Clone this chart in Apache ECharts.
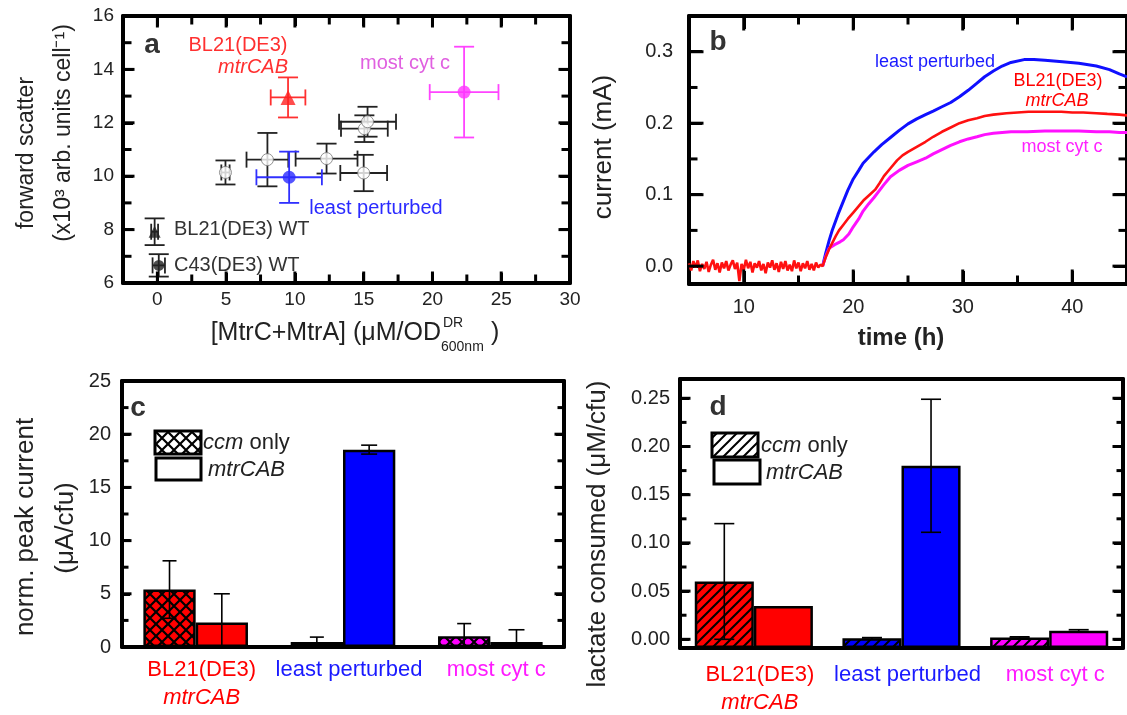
<!DOCTYPE html>
<html><head><meta charset="utf-8">
<script src="https://cdn.jsdelivr.net/npm/echarts@6/dist/echarts.min.js"></script>
<style>html,body{margin:0;padding:0;background:#fff}#c{width:1127px;height:715px}</style>
</head><body><div id="c"></div>
<script>
// ---------------- Panel a: [x, y, xErr, yErr]
const aMtrCAB  = [[9.5, 12.95, 1.26, 0.75]];
const aMostCyt = [[22.3, 13.15, 2.5, 1.7]];
const aLeast   = [[9.58, 9.96, 2.38, 0.96]];
const aOthers  = [[4.95,10.14,0.3,0.45],[8.0,10.62,1.52,1.0],[12.3,10.66,2.25,0.56],
                  [15.0,10.12,1.7,0.68],[15.05,11.78,1.7,0.5],[15.28,12.04,2.07,0.56]];
const aBLWT    = [[-0.2, 7.92, 0.25, 0.5]];
const aC43WT   = [[0.1, 6.66, 0.45, 0.42]];
const aXTicks  = [0,5,10,15,20,25,30];
const aXMinor  = [2.5,7.5,12.5,17.5,22.5,27.5];
const aYTicks  = [6,8,10,12,14,16];
const aYMinor  = [7,9,11,13,15];

// ---------------- Panel b: [time (h), current (mA)]
const bRedBaseline = [
[5.0,0.004],[5.2,-0.006],[5.4,0.007],[5.6,-0.002],[5.8,0.008],
[6.0,-0.007],[6.2,0.003],[6.4,-0.004],[6.6,0.006],[6.8,-0.008],
[7.0,0.002],[7.2,0.009],[7.4,-0.005],[7.6,0.004],[7.8,-0.009],
[8.0,0.005],[8.2,-0.003],[8.4,0.007],[8.6,-0.006],[8.8,0.002],
[9.0,0.008],[9.2,-0.004],[9.4,0.005],[9.6,-0.021],[9.8,0.003],
[10.0,-0.005],[10.2,0.009],[10.4,-0.003],[10.6,0.006],[10.8,-0.009],
[11.0,0.004],[11.2,-0.002],[11.4,0.007],[11.6,-0.006],[11.8,0.003],
[12.0,-0.010],[12.2,0.005],[12.4,-0.002],[12.6,0.008],[12.8,-0.005],
[13.0,0.004],[13.2,-0.008],[13.4,0.006],[13.6,-0.004],[13.8,0.007],
[14.0,-0.006],[14.2,0.002],[14.4,-0.007],[14.6,0.008],[14.8,-0.003],
[15.0,0.005],[15.2,-0.007],[15.4,0.004],[15.6,-0.003],[15.8,0.007],
[16.0,-0.005],[16.2,0.003],[16.4,-0.006],[16.6,0.005],[16.8,-0.002],
[17.0,0.002]];
const bRedRise = [
[17.2,0.000],[17.5,0.013],[17.8,0.024],[18.1,0.033],[18.4,0.042],[18.7,0.050],[19.1,0.058],
[19.5,0.066],[20.0,0.075],[20.5,0.084],[21.0,0.093],[21.5,0.100],[22.0,0.107],[22.4,0.116],
[22.8,0.126],[23.4,0.137],[24.0,0.148],[24.5,0.155],[25.0,0.160],[25.8,0.167],[26.6,0.174],
[27.3,0.181],[28.1,0.188],[28.9,0.194],[29.7,0.200],[30.5,0.204],[31.3,0.207],[32.0,0.210],
[32.8,0.212],[34.0,0.214],[35.0,0.215],[36.0,0.216],[37.0,0.216],[38.0,0.216],[39.0,0.216],
[40.0,0.215],[41.0,0.215],[42.2,0.214],[43.2,0.213],[44.3,0.212],[45.0,0.211]];
const bBlue = [
[17.2,0.000],[17.5,0.019],[17.8,0.036],[18.1,0.051],[18.6,0.072],[19.1,0.091],[19.5,0.106],
[20.0,0.122],[20.5,0.134],[20.9,0.144],[21.4,0.152],[21.9,0.160],[22.6,0.170],[23.4,0.180],
[24.2,0.190],[25.0,0.199],[25.8,0.206],[26.6,0.212],[27.3,0.217],[28.1,0.223],[28.9,0.229],
[29.7,0.237],[30.5,0.246],[31.3,0.256],[32.0,0.265],[32.8,0.273],[33.6,0.280],[34.4,0.285],
[35.6,0.289],[36.5,0.289],[37.5,0.288],[38.3,0.287],[39.1,0.286],[40.6,0.284],[42.2,0.280],
[43.4,0.275],[44.3,0.269],[45.0,0.265]];
const bMagenta = [
[17.2,0.000],[17.5,0.014],[17.8,0.025],[18.3,0.030],[18.8,0.034],[19.1,0.037],[19.6,0.045],
[20.0,0.055],[20.5,0.066],[20.9,0.077],[21.4,0.087],[21.9,0.096],[22.4,0.106],[22.8,0.114],
[23.4,0.125],[24.2,0.134],[25.0,0.141],[25.8,0.146],[26.6,0.151],[27.3,0.157],[28.1,0.163],
[28.9,0.169],[29.7,0.174],[30.5,0.178],[31.3,0.181],[32.0,0.184],[32.8,0.186],[34.4,0.188],
[35.9,0.188],[37.5,0.189],[39.0,0.189],[40.6,0.189],[42.2,0.188],[43.4,0.188],[44.3,0.187],[45.0,0.187]];
const bXTicks = [10,20,30,40];
const bXMinor = [15,25,35];
const bYTicks = [0,0.1,0.2,0.3];
const bYMinor = [0.05,0.15,0.25];

// ---------------- Panels c, d
const categories = ['BL21(DE3) mtrCAB','least perturbed','most cyt c'];
const cCcm    = [5.4, 0.47, 1.0];
const cCcmErr = [2.7, 0.46, 1.2];
const cMtr    = [2.3, 18.55, 0.47];
const cMtrErr = [2.7, 0.42, 1.15];
const cYTicks = [0,5,10,15,20,25];
const cYMinor = [2.5,7.5,12.5,17.5,22.5];
const dCcm    = [0.060, 0.001, 0.002];
const dCcmErr = [0.060, 0.0008, 0.0006];
const dMtr    = [0.0345, 0.180, 0.009];
const dMtrErr = [0, 0.069, 0.001];
const dYTicks = [0,0.05,0.10,0.15,0.20,0.25];
const dYMinor = [0.025,0.075,0.125,0.175,0.225];

const FONT = "'Liberation Sans', Arial, sans-serif";
const RED = '#ff0000', BLUE = '#0000ff', MAG = '#ff00ff';
const catColors = [RED, BLUE, MAG];

const GRIDS = [
  {left:123, top:16, width:447, height:267},
  {left:689, top:16, width:446, height:268},
  {left:122, top:381, width:442, height:266},
  {left:680, top:379, width:443, height:269}
];

function crossPattern(bg) {
  const p = 12, cv = document.createElement('canvas'); cv.width = p; cv.height = p;
  const ctx = cv.getContext('2d'); ctx.fillStyle = bg; ctx.fillRect(0,0,p,p);
  ctx.strokeStyle = '#000'; ctx.lineWidth = 2.2;
  ctx.beginPath(); ctx.moveTo(0,0); ctx.lineTo(p,p); ctx.moveTo(p,0); ctx.lineTo(0,p); ctx.stroke();
  return {image: cv, repeat: 'repeat'};
}
function diagPattern(bg) {
  const p = 10, cv = document.createElement('canvas'); cv.width = p; cv.height = p;
  const ctx = cv.getContext('2d'); ctx.fillStyle = bg; ctx.fillRect(0,0,p,p);
  ctx.strokeStyle = '#000'; ctx.lineWidth = 2;
  ctx.beginPath(); ctx.moveTo(0,p); ctx.lineTo(p,0);
  ctx.moveTo(-2,2); ctx.lineTo(2,-2); ctx.moveTo(p-2,p+2); ctx.lineTo(p+2,p-2); ctx.stroke();
  return {image: cv, repeat: 'repeat'};
}

const LINE = {color:'#000', width:4};
function vAxis(o) {
  return {
    type:'value', gridIndex:o.grid, position:o.pos, min:o.min, max:o.max,
    startValue:o.startValue,
    axisLine:{show:true, onZero:false, lineStyle:LINE}, splitLine:{show:false},
    axisTick:o.tlen ? {show:true, inside:true, length:o.tlen, customValues:o.ticks, lineStyle:{color:'#000', width:3}} : {show:false},
    minorTick:{show:false},
    axisLabel: o.labels ? {show:true, customValues:o.ticks, margin:o.margin, fontSize:o.fs||20,
      color:'#222', fontFamily:FONT, formatter:o.fmt} : {show:false}
  };
}

const xAxes = [
  vAxis({grid:0,pos:'bottom',min:-2.5,max:30,ticks:aXTicks,labels:true,margin:7,fs:19,tlen:10}),
  vAxis({grid:0,pos:'top',min:-2.5,max:30,ticks:aXTicks,tlen:10}),
  vAxis({grid:1,pos:'bottom',min:5,max:45,ticks:bXTicks,labels:true,margin:13,tlen:13}),
  vAxis({grid:1,pos:'top',min:5,max:45,ticks:bXTicks,tlen:13}),
];
function catAxis(grid, margin) {
  return {type:'category', gridIndex:grid, position:'bottom', data:categories,
    axisLine:{show:true, onZero:false, lineStyle:LINE}, axisTick:{show:false},
    splitLine:{show:false},
    axisLabel:{interval:0, margin:margin, padding:[0,0,0,12], fontFamily:FONT, fontSize:22,
      formatter:(v,i)=> i===0 ? '{r|BL21(DE3)}\n{ri|mtrCAB}' : (i===1 ? '{b|least perturbed}' : '{m|most cyt c}'),
      rich:{
        r:{color:RED,fontSize:22,lineHeight:28,fontFamily:FONT},
        ri:{color:RED,fontSize:22,lineHeight:28,fontStyle:'italic',fontFamily:FONT},
        b:{color:'#1a1aff',fontSize:22,lineHeight:28,fontFamily:FONT},
        m:{color:'#ff1aff',fontSize:22,lineHeight:28,fontFamily:FONT}
      }}};
}
function catTop(grid) {
  return {type:'category', gridIndex:grid, position:'top', data:categories,
    axisLine:{show:true, onZero:false, lineStyle:LINE}, axisTick:{show:false}, axisLabel:{show:false}, splitLine:{show:false}};
}
xAxes.push(catAxis(2, 9));   // 4
xAxes.push(catAxis(3, 13));  // 5
xAxes.push(catTop(2));       // 6
xAxes.push(catTop(3));       // 7

const yAxes = [
  vAxis({grid:0,pos:'left',min:6,max:16,ticks:aYTicks,labels:true,margin:9,fs:19,tlen:10}),   // 0
  vAxis({grid:0,pos:'right',min:6,max:16,ticks:aYTicks,tlen:10}),                           // 1
  vAxis({grid:1,pos:'left',min:-0.025,max:0.35,ticks:bYTicks,labels:true,margin:16,fmt:v=>v.toFixed(1),tlen:13}), // 2
  vAxis({grid:1,pos:'right',min:-0.025,max:0.35,ticks:bYTicks,tlen:13}),                    // 3
  vAxis({grid:2,pos:'left',min:0,max:25,ticks:cYTicks,labels:true,margin:11,tlen:8}),        // 4
  vAxis({grid:2,pos:'right',min:0,max:25,ticks:cYTicks,tlen:8}),                            // 5
  vAxis({grid:3,pos:'left',min:-0.009,max:0.27,startValue:-0.009,ticks:dYTicks,labels:true,margin:10,fmt:v=>v.toFixed(2),tlen:9}), // 6
  vAxis({grid:3,pos:'right',min:-0.009,max:0.27,ticks:dYTicks,tlen:9}),                     // 7
];

function xyErr(color) {
  return function(params, api) {
    const x = api.value(0), y = api.value(1), ex = api.value(2), ey = api.value(3);
    const l = api.coord([x-ex,y]), r = api.coord([x+ex,y]), t = api.coord([x,y+ey]), b = api.coord([x,y-ey]);
    const st = {stroke:color, lineWidth:1.8};
    const ch = 10, cv = 8;
    return {type:'group', children:[
      {type:'line', shape:{x1:l[0],y1:l[1],x2:r[0],y2:r[1]}, style:st},
      {type:'line', shape:{x1:l[0],y1:l[1]-cv,x2:l[0],y2:l[1]+cv}, style:st},
      {type:'line', shape:{x1:r[0],y1:r[1]-cv,x2:r[0],y2:r[1]+cv}, style:st},
      {type:'line', shape:{x1:t[0],y1:t[1],x2:b[0],y2:b[1]}, style:st},
      {type:'line', shape:{x1:t[0]-ch,y1:t[1],x2:t[0]+ch,y2:t[1]}, style:st},
      {type:'line', shape:{x1:b[0]-ch,y1:b[1],x2:b[0]+ch,y2:b[1]}, style:st}
    ]};
  };
}
function barErr(gap, side, cap) {
  return function(params, api) {
    const i = api.value(0), v = api.value(1), e = api.value(2);
    if (!e) return null;
    const band = api.size([1,0])[0];
    const w = band*(1-gap)/2;
    const x = api.coord([i,v])[0] + side*w/2;
    const yt = api.coord([i,v+e])[1], yb = api.coord([i,v-e])[1];
    const st = {stroke:'#000', lineWidth:1.6};
    return {type:'group', children:[
      {type:'line', shape:{x1:x,y1:yt,x2:x,y2:yb}, style:st},
      {type:'line', shape:{x1:x-cap,y1:yt,x2:x+cap,y2:yt}, style:st},
      {type:'line', shape:{x1:x-cap,y1:yb,x2:x+cap,y2:yb}, style:st}
    ]};
  };
}
// inward tick marks at both edges of a grid; item = [x, y, isY, len], placed through the scales
function tickRender(params, api) {
  const isY = api.value(2), len = api.value(3);
  const p = api.coord([api.value(0), api.value(1)]);
  const cs = params.coordSys;
  const seg = (x1,y1,x2,y2)=>({type:'rect', shape:{x:Math.min(x1,x2)-1.5, y:Math.min(y1,y2)-1.5,
     width:Math.abs(x2-x1)+3, height:Math.abs(y2-y1)+3}, style:{fill:'#000'}});
  if (isY) return {type:'group', children:[seg(cs.x, p[1], cs.x+len, p[1]), seg(cs.x+cs.width-len, p[1], cs.x+cs.width, p[1])]};
  return {type:'group', children:[seg(p[0], cs.y+cs.height-len, p[0], cs.y+cs.height), seg(p[0], cs.y, p[0], cs.y+len)]};
}
function tickItems(xMaj, xMin, yMaj, yMin, lMaj, lMin, xr, yr, midX, midY) {
  const inR = (r)=> (v)=> v > r[0] + 1e-9 && v < r[1] - 1e-9;
  const out = [];
  xMaj.filter(inR(xr)).forEach(v=>out.push([v, midY, 0, lMaj]));
  xMin.filter(inR(xr)).forEach(v=>out.push([v, midY, 0, lMin]));
  yMaj.filter(inR(yr)).forEach(v=>out.push([midX, v, 1, lMaj]));
  yMin.filter(inR(yr)).forEach(v=>out.push([midX, v, 1, lMin]));
  return out;
}

const series = [];
const tickBase = {type:'custom', clip:false, zlevel:1, z:2, renderItem:tickRender, encode:{x:0, y:1}};
series.push(Object.assign({xAxisIndex:0, yAxisIndex:0, data:tickItems(aXTicks,aXMinor,aYTicks,aYMinor,10,7,[-2.5,30],[6,16],10,10)}, tickBase));
series.push(Object.assign({xAxisIndex:2, yAxisIndex:2, data:tickItems(bXTicks,bXMinor,bYTicks,bYMinor,13,7,[5,45],[-0.025,0.35],20,0.1)}, tickBase));
series.push(Object.assign({xAxisIndex:4, yAxisIndex:4, data:tickItems([],[],cYTicks,cYMinor,8,5,[0,1],[0,25],1,10)}, tickBase));
series.push(Object.assign({xAxisIndex:5, yAxisIndex:6, data:tickItems([],[],dYTicks,dYMinor,9,5,[0,1],[-0.009,0.27],1,0.1)}, tickBase));
// panel a
[[aOthers,'#222'],[aBLWT,'#222'],[aC43WT,'#222'],[aLeast,'#3030ff'],[aMtrCAB,'#ff3030'],[aMostCyt,'#ff44ff']].forEach(([d,c])=>{
  series.push({type:'custom', xAxisIndex:0, yAxisIndex:0, data:d, renderItem:xyErr(c), z:2, silent:true});
});
series.push({type:'scatter', xAxisIndex:0, yAxisIndex:0, data:aOthers, symbol:'circle', symbolSize:12,
  itemStyle:{color:'#fff', borderColor:'#777', borderWidth:1}, z:3});
series.push({type:'scatter', xAxisIndex:0, yAxisIndex:0, data:aBLWT, symbol:'triangle', symbolSize:12, itemStyle:{color:'#222'}, z:3});
series.push({type:'scatter', xAxisIndex:0, yAxisIndex:0, data:aC43WT, symbol:'circle', symbolSize:11, itemStyle:{color:'#222'}, z:3});
series.push({type:'scatter', xAxisIndex:0, yAxisIndex:0, data:aLeast, symbol:'circle', symbolSize:13, itemStyle:{color:'#2a2aff'}, z:3});
series.push({type:'scatter', xAxisIndex:0, yAxisIndex:0, data:aMtrCAB, symbol:'triangle', symbolSize:15, itemStyle:{color:'#ff2020'}, z:3});
series.push({type:'scatter', xAxisIndex:0, yAxisIndex:0, data:aMostCyt, symbol:'circle', symbolSize:13, itemStyle:{color:'#ff33ff'}, z:3});
// panel b
series.push({type:'line', xAxisIndex:2, yAxisIndex:2, data:bBlue, showSymbol:false, lineStyle:{color:'#1010ff', width:3}});
series.push({type:'line', xAxisIndex:2, yAxisIndex:2, data:bMagenta, showSymbol:false, lineStyle:{color:'#ff10ff', width:3}});
series.push({type:'line', xAxisIndex:2, yAxisIndex:2, data:bRedBaseline.concat(bRedRise), showSymbol:false, lineStyle:{color:'#ff1010', width:2.6}});
// panel c
const GAPC = 0.29, GAPD = 0.20;
series.push({type:'bar', xAxisIndex:4, yAxisIndex:4, barGap:'0%', barCategoryGap:(GAPC*100)+'%',
  data:cCcm.map((v,i)=>({value:v, itemStyle:{color:crossPattern(catColors[i])}})),
  itemStyle:{borderColor:'#000', borderWidth:2.5}});
series.push({type:'bar', xAxisIndex:4, yAxisIndex:4, barGap:'0%', barCategoryGap:(GAPC*100)+'%',
  data:cMtr.map((v,i)=>({value:v, itemStyle:{color:catColors[i]}})),
  itemStyle:{borderColor:'#000', borderWidth:2.5}});
series.push({type:'custom', xAxisIndex:4, yAxisIndex:4, clip:true, z:5, renderItem:barErr(GAPC,-1,7),
  data:cCcm.map((v,i)=>[i,v,cCcmErr[i]])});
series.push({type:'custom', xAxisIndex:4, yAxisIndex:4, clip:true, z:5, renderItem:barErr(GAPC,1,8),
  data:cMtr.map((v,i)=>[i,v,cMtrErr[i]])});
// panel d
series.push({type:'bar', xAxisIndex:5, yAxisIndex:6, barGap:'0%', barCategoryGap:(GAPD*100)+'%',
  data:dCcm.map((v,i)=>({value:v, itemStyle:{color:diagPattern(catColors[i])}})),
  itemStyle:{borderColor:'#000', borderWidth:2.5}});
series.push({type:'bar', xAxisIndex:5, yAxisIndex:6, barGap:'0%', barCategoryGap:(GAPD*100)+'%',
  data:dMtr.map((v,i)=>({value:v, itemStyle:{color:catColors[i]}})),
  itemStyle:{borderColor:'#000', borderWidth:2.5}});
series.push({type:'custom', xAxisIndex:5, yAxisIndex:6, clip:true, z:5, renderItem:barErr(GAPD,-1,10),
  data:dCcm.map((v,i)=>[i,v,dCcmErr[i]])});
series.push({type:'custom', xAxisIndex:5, yAxisIndex:6, clip:true, z:5, renderItem:barErr(GAPD,1,10),
  data:dMtr.map((v,i)=>[i,v,dMtrErr[i]])});

function txt(x, y, text, o) {
  o = o || {};
  return {type:'text', x:x, y:y, rotation:o.rot||0, z:100,
    style:{text:text, fontSize:o.fs||20, fontFamily:FONT, fontWeight:o.fw||'normal', fontStyle:o.it?'italic':'normal',
      fill:o.color||'#222', align:o.align||'center', verticalAlign:'middle', rich:o.rich}};
}
const R90 = Math.PI/2;
const graphics = [
  // panel a
  txt(152,45,'a',{fs:28,fw:'bold',color:'#333'}),
  txt(238,45,'BL21(DE3)',{color:'#ff3030'}),
  txt(253,67,'mtrCAB',{color:'#ff3030',it:true}),
  txt(405,63,'most cyt c',{color:'#e060e0'}),
  txt(376,208,'least perturbed',{color:'#2a2aff'}),
  txt(174,229,'BL21(DE3) WT',{align:'left',color:'#333'}),
  txt(174,265,'C43(DE3) WT',{align:'left',color:'#333'}),
  txt(27,153,'forward scatter',{rot:R90,fs:23}),
  txt(64,133,'(x10\u00B3 arb. units cell\u207B\u00B9)',{rot:R90,fs:23}),
  txt(441,333,'[MtrC+MtrA] (\u03BCM/OD',{align:'right',fs:25}),
  txt(443,323,'DR',{align:'left',fs:14}),
  txt(441,347,'600nm',{align:'left',fs:14}),
  txt(491,333,')',{align:'left',fs:25}),
  // panel b
  txt(718,42,'b',{fs:28,fw:'bold',color:'#333'}),
  txt(935,62,'least perturbed',{fs:18,color:'#1a1aff'}),
  txt(1058,81,'BL21(DE3)',{fs:18,color:RED}),
  txt(1057,101,'mtrCAB',{fs:18,color:RED,it:true}),
  txt(1062,147,'most cyt c',{fs:18,color:'#ff22ff'}),
  txt(604,147,'current (mA)',{rot:R90,fs:26}),
  txt(901,338,'time (h)',{fs:24,fw:'bold'}),
  // panel c
  txt(138,408,'c',{fs:28,fw:'bold',color:'#333'}),
  txt(26,527,'norm. peak current',{rot:R90,fs:26}),
  txt(66,528,'(\u03BCA/cfu)',{rot:R90,fs:26}),
  {type:'rect', z:100, shape:{x:155,y:431,width:46,height:23}, style:{fill:crossPattern('#fff'), stroke:'#000', lineWidth:3}},
  {type:'rect', z:100, shape:{x:156,y:458,width:45,height:22}, style:{fill:'#fff', stroke:'#000', lineWidth:3}},
  txt(203,443,'{i|ccm} only',{align:'left',fs:22,rich:{i:{fontStyle:'italic',fontSize:22,fontFamily:FONT,fill:'#222'}}}),
  txt(208,470,'mtrCAB',{align:'left',fs:22,it:true}),
  // panel d
  txt(718,407,'d',{fs:28,fw:'bold',color:'#333'}),
  txt(598,534,'lactate consumed (\u03BCM/cfu)',{rot:R90,fs:26}),
  {type:'rect', z:100, shape:{x:712,y:433,width:46,height:24}, style:{fill:diagPattern('#fff'), stroke:'#000', lineWidth:3}},
  {type:'rect', z:100, shape:{x:714,y:460,width:46,height:24}, style:{fill:'#fff', stroke:'#000', lineWidth:3}},
  txt(761,446,'{i|ccm} only',{align:'left',fs:22,rich:{i:{fontStyle:'italic',fontSize:22,fontFamily:FONT,fill:'#222'}}}),
  txt(766,473,'mtrCAB',{align:'left',fs:22,it:true}),
];

const chart = echarts.init(document.getElementById('c'), null, {renderer:'canvas'});
chart.setOption({
  animation:false,
  backgroundColor:'#fff',
  textStyle:{fontFamily:FONT},
  grid:GRIDS.map(g=>Object.assign({show:false}, g)),
  xAxis:xAxes, yAxis:yAxes, series:series, graphic:graphics
});
</script></body></html>
